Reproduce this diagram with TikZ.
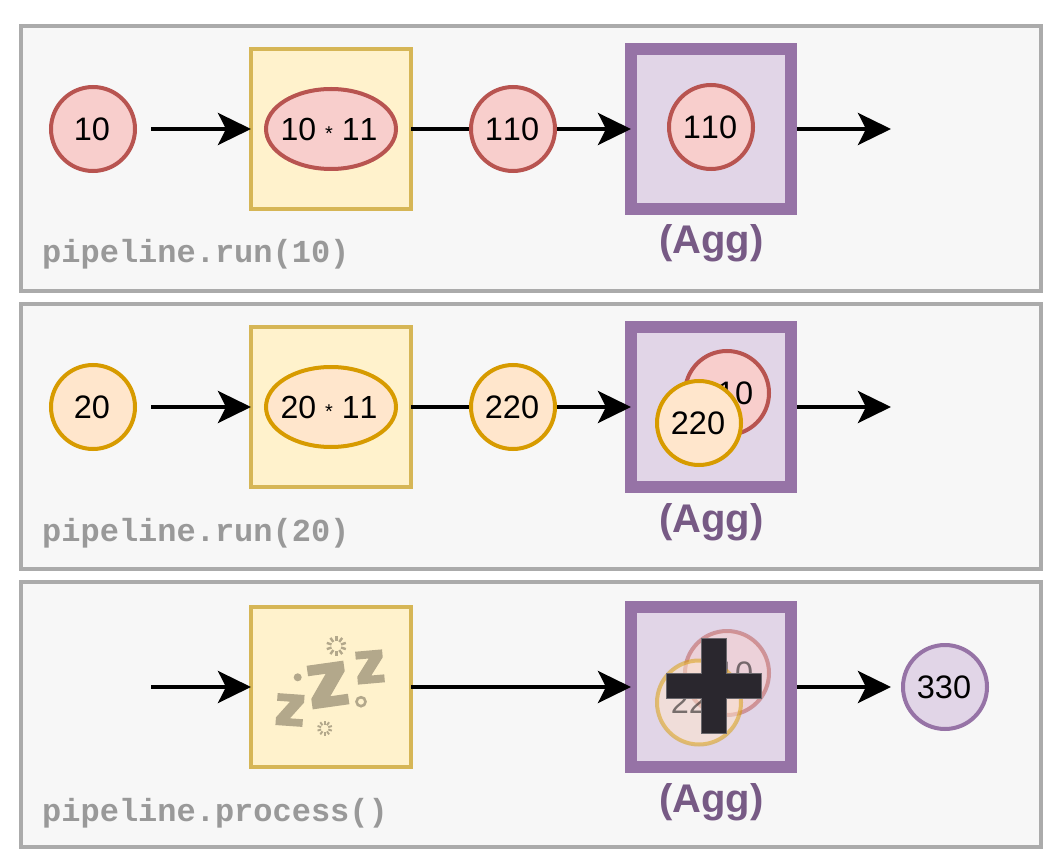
\documentclass[tikz,border=0pt]{standalone}
\usepackage{fontspec}
\setmainfont[Kerning=Off]{Liberation Sans}
\setmonofont{Liberation Mono}
\usetikzlibrary{arrows.meta,shapes.geometric,calc}
\definecolor{panelfill}{HTML}{F7F7F7}
\definecolor{panelline}{HTML}{ABABAB}
\definecolor{yelfill}{HTML}{FFF2CC}
\definecolor{yelline}{HTML}{D6B656}
\definecolor{redfill}{HTML}{F8CECC}
\definecolor{redline}{HTML}{B85450}
\definecolor{orafill}{HTML}{FFE6CC}
\definecolor{oraline}{HTML}{D79B00}
\definecolor{purfill}{HTML}{E1D5E7}
\definecolor{purline}{HTML}{9673A6}
\definecolor{aggtext}{HTML}{775A85}
\definecolor{codetext}{HTML}{999999}
\definecolor{zzz}{HTML}{B3A88B}
\definecolor{plusfill}{HTML}{2A272E}
\newcommand{\bigtxt}{\fontsize{32}{38}\selectfont}
\newcommand{\numtxt}{\fontsize{32.5}{39}\selectfont}
\newcommand{\startxt}{\fontsize{20}{24}\selectfont}
\newcommand{\mul}[2]{\makebox[0pt]{\kern-4pt #1 {\startxt *} #2}}
\tikzset{
  x=1pt,y=-1pt,
  panel/.style={draw=panelline,fill=panelfill,line width=4pt,minimum width=1020pt,minimum height=265pt,outer sep=0pt,inner sep=0pt},
  opbox/.style={draw=yelline,fill=yelfill,line width=4pt,minimum size=160pt,outer sep=0pt,inner sep=0pt},
  aggbox/.style={draw=purline,fill=purfill,line width=12pt,minimum size=160pt,outer sep=0pt,inner sep=0pt},
  val/.style={circle,line width=4pt,minimum size=84pt,inner sep=0pt,outer sep=0pt,font=\numtxt,execute at begin node=\kern-2pt},
  redval/.style={val,draw=redline,fill=redfill},
  oraval/.style={val,draw=oraline,fill=orafill},
  purval/.style={val,draw=purline,fill=purfill},
  calc/.style={ellipse,line width=4pt,minimum width=130pt,minimum height=80pt,inner sep=0pt,outer sep=0pt,font=\bigtxt},
  flow/.style={line width=4pt,-{Stealth[length=33pt,width=32pt,inset=8pt]}},
  plain/.style={line width=4pt},
  codelabel/.style={anchor=base west,inner sep=0pt,text=codetext,font=\ttfamily\bfseries\bigtxt},
  agglabel/.style={anchor=base,inner sep=0pt,text=aggtext,font=\bfseries\fontsize{40}{48}\selectfont},
  faded/.style={opacity=.5,text opacity=.5},
  spark/.style={draw=zzz},
}
\newcommand{\zglyph}[5]{% cx, cy, width, height, rot
  \fill[zzz,shift={(#1,#2)},rotate=#5,xscale=#3,yscale=#4]
    (-.5,-.5)--(.5,-.5)--(.5,-.26)--(.02,.26)--(.5,.26)--(.5,.5)--(-.5,.5)--(-.5,.26)--(-.02,-.26)--(-.5,-.26)--cycle;}
\newcommand{\sparkle}[4]{% cx, cy, r, width
  \foreach \a in {0,36,...,324}
    \draw[spark,line width=#4pt] ($(#1,#2)+(\a+18:#3*.5)$) -- ($(#1,#2)+(\a+18:#3)$);}
\begin{document}
\begin{tikzpicture}
\useasboundingbox (0,0) rectangle (1062,866);
\fill[white] (0,0) rectangle (1062,866);
% panels
\node[panel] (p1) at (531,158.5) {};
\node[panel] (p2) at (531,436.5) {};
\node[panel] (p3) at (531,714.5) {};
\node[codelabel] (c1) at (42,263) {pipeline.run(10)};
\node[codelabel] (c2) at (42,541) {pipeline.run(20)};
\node[codelabel] (c3) at (42,821) {pipeline.process()};
% row 1
\coordinate (s1) at (151,129);
\coordinate (e1) at (891,129);
\node[opbox] (b1) at (331,129) {};
\node[calc,draw=redline,fill=redfill] (m1) at (331,129) {\mul{10}{11}};
\node[redval] (i1) at (93,129) {10};
\node[redval] (r1) at (513,129) {110};
\node[aggbox] (a1) at (711,129) {};
\node[redval] (h1) at (711,127) {110};
\node[agglabel] (l1) at (711.5,254) {(Agg)};
\draw[flow] (s1) -- (b1);
\draw[plain] (b1) -- ([xshift=-2pt]r1.west);
\draw[flow] ([xshift=2pt]r1.east) -- (a1);
\draw[flow] ([xshift=6pt]a1.east) -- (e1);
% row 2
\coordinate (s2) at (151,407);
\coordinate (e2) at (891,407);
\node[opbox] (b2) at (331,407) {};
\node[calc,draw=oraline,fill=orafill] (m2) at (331,407) {\mul{20}{11}};
\node[oraval] (i2) at (93,407) {20};
\node[oraval] (r2) at (513,407) {220};
\node[aggbox] (a2) at (711,407) {};
\node[redval] (h2) at (727,393) {110};
\node[oraval] (k2) at (699,423) {220};
\node[agglabel] (l2) at (711.5,532) {(Agg)};
\draw[flow] (s2) -- (b2);
\draw[plain] (b2) -- ([xshift=-2pt]r2.west);
\draw[flow] ([xshift=2pt]r2.east) -- (a2);
\draw[flow] ([xshift=6pt]a2.east) -- (e2);
% row 3
\coordinate (s3) at (151,687);
\coordinate (e3) at (891,687);
\node[opbox] (b3) at (331,687) {};
\node[aggbox] (a3) at (711,687) {};
\node[redval,faded] (h3) at (727,673) {110};
\node[oraval,faded] (k3) at (699,702.5) {220};
\node[purval] (o3) at (945,687) {330};
\node[agglabel] (l3) at (711.5,812) {(Agg)};
\draw[flow] (s3) -- (b3);
\draw[flow] (b3) -- (a3);
\draw[flow] ([xshift=6pt]a3.east) -- (e3);
% plus sign
\draw[fill=plusfill,draw=plusfill!70!white,line width=.7pt]
  (701.5,638.5)--(726.5,638.5)--(726.5,673.5)--(761.5,673.5)--(761.5,698.5)--(726.5,698.5)--(726.5,733.5)--(701.5,733.5)--(701.5,698.5)--(666.5,698.5)--(666.5,673.5)--(701.5,673.5)--cycle;
% sleep icon
\zglyph{328}{685}{37}{44}{8}
\zglyph{370}{667}{27}{33}{5}
\zglyph{290}{710}{27}{32}{-4}
\fill[zzz] (297.7,677.3) circle (4);
\draw[zzz,line width=2.6pt] (361,701.7) circle (4.5);
\sparkle{336.3}{646}{10}{2.4}
\sparkle{324.7}{728.3}{7.5}{1.9}
\end{tikzpicture}
\end{document}
